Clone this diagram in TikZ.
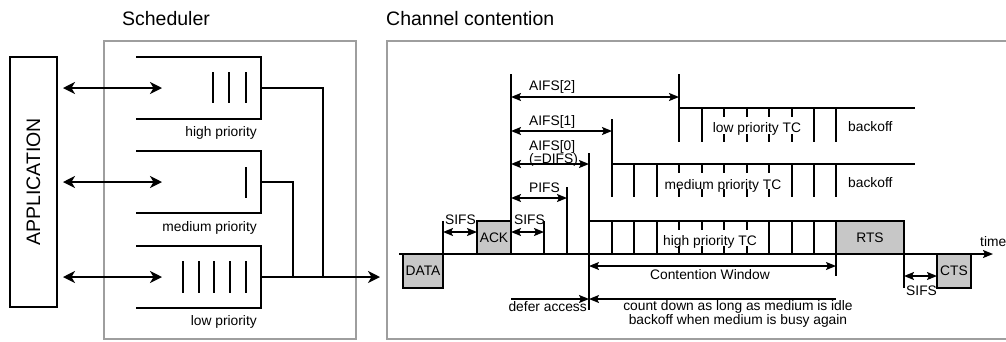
\documentclass[tikz,border=0pt]{standalone}
\usepackage{fontspec}
\setmainfont{Liberation Sans}
\usetikzlibrary{arrows.meta}
\begin{document}
\begin{tikzpicture}[x=1pt,y=-1pt,
  frame/.style={draw=black!38, line width=1.4pt, inner sep=0pt, outer sep=0pt, anchor=north west},
  qline/.style={line width=1.5pt},
  queue/.style={minimum width=125pt, minimum height=62pt, inner sep=0pt, outer sep=0pt},
  dbl/.style={line width=1.6pt, {Stealth[length=12pt,width=12pt,inset=3.5pt]}-{Stealth[length=12pt,width=12pt,inset=3.5pt]}},
  outarrow/.style={line width=1.5pt, -{Stealth[length=12pt,width=12pt,inset=3.5pt]}},
  title/.style={font=\fontsize{19.5}{22}\selectfont, inner sep=0pt},
  lbl/.style={font=\fontsize{13.8}{15}\selectfont, inner sep=0pt},
  tl/.style={line width=1.6pt},
  tv/.style={line width=2.1pt},
  dim/.style={line width=1.6pt, {Stealth[length=10pt,width=8pt,inset=2pt]}-{Stealth[length=10pt,width=8pt,inset=2pt]}},
  rarrow/.style={line width=1.4pt, -{Stealth[length=10pt,width=8pt,inset=2pt]}},
  pkt/.style={draw, fill=black!22, line width=2pt, inner sep=0pt, outer sep=0pt, font=\fontsize{13.8}{15}\selectfont},
]
\useasboundingbox (0,0) rectangle (1006,341);

% ---------------- scheduler side ----------------
\node[title, anchor=base] (schedtitle) at (166,25) {Scheduler};
\node[title, anchor=base west] (chantitle) at (386,25) {Channel contention};

\node[frame, minimum width=252pt, minimum height=298pt] (sched) at (104,41) {};
\node[frame, minimum width=630pt, minimum height=298pt] (chan) at (387,41) {};

\node[draw, line width=1.5pt, minimum width=47pt, minimum height=250pt, inner sep=0pt, outer sep=0pt] (app) at (33.5,182) {};
\node[title, rotate=90] (apptxt) at (app.center) {APPLICATION};

% queues, open towards the application
\node[queue] (qh) at (198.5,88) {};
\node[queue] (qm) at (198.5,182) {};
\node[queue] (ql) at (198.5,277) {};
\foreach \q in {qh,qm,ql}
  \draw[qline] (\q.north west) -- (\q.north east) -- (\q.south east) -- (\q.south west);

% queued frames
\foreach \x in {213,229,246} \draw[qline] (\x,72) -- (\x,103);
\draw[qline] (246,167) -- (246,198);
\foreach \x in {183,199,214,230,246} \draw[qline] (\x,261) -- (\x,293);

\node[lbl, anchor=base east] (lh) at (257,136) {high priority};
\node[lbl, anchor=base east] (lm) at (257,231) {medium priority};
\node[lbl, anchor=base east] (ll) at (257,325) {low priority};

% application <-> queues
\foreach \q in {qh,qm,ql}
  \draw[dbl] ([xshift=6pt]app.east |- \q.west) -- ([xshift=26pt]\q.west);

% queues merge into the channel
\coordinate (mergeh) at (323,277);
\coordinate (mergem) at (293,277);
\coordinate (out) at (380,277);
\draw[qline] (qh.east) -| (mergeh);
\draw[qline] (qm.east) -| (mergem);
\draw[outarrow] (ql.east) -- (out);

% ---------------- channel contention ----------------
\coordinate (tstart) at (399,254);
\coordinate (tend) at (993,254);
\draw[tl, -{Stealth[length=10pt,width=8pt,inset=2pt]}] (tstart) -- (tend);
\node[lbl, anchor=base west] (time) at (980,246) {time};

% frames on the medium
\node[pkt, minimum width=40pt, minimum height=34pt] (data) at (423,271) {DATA};
\node[pkt, minimum width=34pt, minimum height=33pt] (ack) at (494,237.5) {ACK};
\node[pkt, minimum width=68pt, minimum height=33pt] (rts) at (870,237.5) {RTS};
\node[pkt, minimum width=34pt, minimum height=34pt] (cts) at (954,271) {CTS};

% interframe space markers
\draw[tv] (443,254) -- (443,221);
\draw[tv] (511,74) -- (511,254);
\draw[tv] (544,221) -- (544,254);
\draw[tv] (567,187) -- (567,254);
\draw[tv] (589,153) -- (589,310);
\draw[tv] (612,119) -- (612,197);
\draw[tv] (679,74) -- (679,142);
\draw[tv] (836,254) -- (836,276);
\draw[tv] (904,254) -- (904,288);

% interframe spaces
\draw[dim] (443,232) -- (477,232);
\node[lbl, anchor=base west] (sifs1) at (445,224) {SIFS};
\draw[dim] (511,232) -- (544,232);
\node[lbl, anchor=base west] (sifs2) at (514,224) {SIFS};
\draw[dim] (511,198) -- (567,198);
\node[lbl, anchor=base west] (pifs) at (529,192) {PIFS};
\draw[dim] (511,164) -- (589,164);
\node[lbl, anchor=base west] (aifs0) at (529,150) {AIFS[0]};
\node[lbl, anchor=base west] (difs) at (529,163) {(=DIFS)};
\draw[dim] (511,131) -- (612,131);
\node[lbl, anchor=base west] (aifs1) at (529,125) {AIFS[1]};
\draw[dim] (511,97) -- (679,97);
\node[lbl, anchor=base west] (aifs2) at (529,90) {AIFS[2]};
\draw[dim] (904,276) -- (937,276);
\node[lbl, anchor=base west] (sifs3) at (906,295) {SIFS};

% low priority traffic class
\draw[tl] (679,108) -- (915,108);
\foreach \x in {702,814,836} \draw[tv] (\x,108) -- (\x,142);
\foreach \x in {724,747,769,792} {\draw[tv] (\x,108) -- (\x,117); \draw[tv] (\x,134) -- (\x,142);}
\node[lbl, anchor=base] (lowtc) at (757,132) {low priority TC};
\node[lbl, anchor=base west] (bo1) at (848,131) {backoff};

% medium priority traffic class
\draw[tl] (612,164) -- (915,164);
\foreach \x in {634,657,792,814,836} \draw[tv] (\x,164) -- (\x,197);
\foreach \x in {679,702,724,747,769} {\draw[tv] (\x,164) -- (\x,173); \draw[tv] (\x,189) -- (\x,197);}
\node[lbl, anchor=base] (medtc) at (723,189) {medium priority TC};
\node[lbl, anchor=base west] (bo2) at (848,187) {backoff};

% high priority traffic class
\draw[tl] (589,221) -- (836,221);
\foreach \x in {612,634,657,769,792,814} \draw[tv] (\x,221) -- (\x,254);
\foreach \x in {679,702,724,747} {\draw[tv] (\x,221) -- (\x,230); \draw[tv] (\x,246) -- (\x,254);}
\node[lbl, anchor=base] (hightc) at (710,245) {high priority TC};

% contention window and deferral
\draw[line width=1.3pt, {Stealth[length=10pt,width=8pt,inset=2pt]}-{Stealth[length=10pt,width=8pt,inset=2pt]}] (589,266) -- (836,266);
\node[lbl, anchor=base] (cw) at (710,279) {Contention Window};
\draw[rarrow] (511,299) -- (589,299);
\draw[rarrow] (836,299) -- (589,299);
\node[lbl, anchor=base east] (defer) at (587,311) {defer access};
\node[lbl, anchor=base] (cd1) at (738,310) {count down as long as medium is idle};
\node[lbl, anchor=base] (cd2) at (738,324) {backoff when medium is busy again};
\end{tikzpicture}
\end{document}
